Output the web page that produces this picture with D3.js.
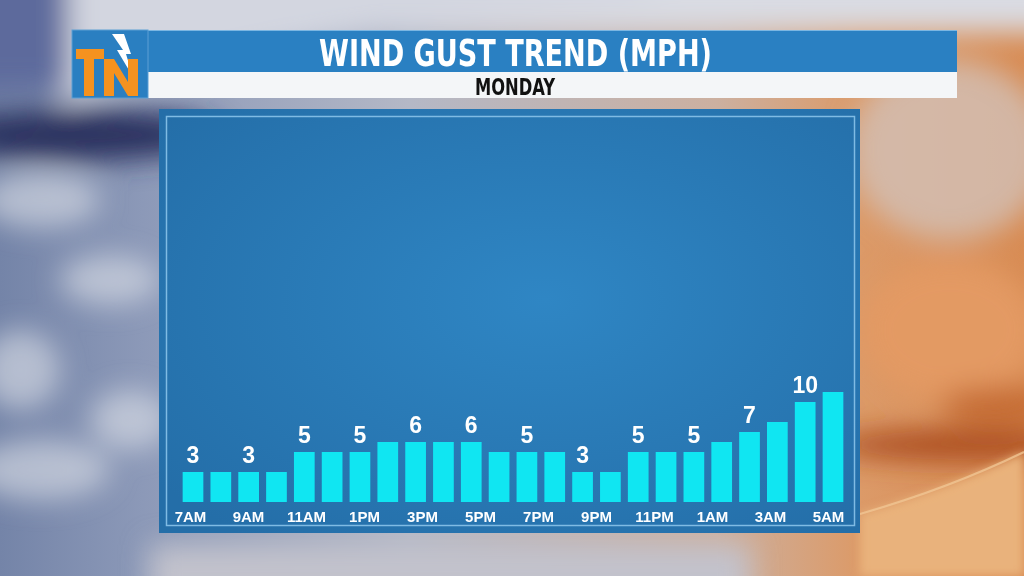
<!DOCTYPE html>
<html>
<head>
<meta charset="utf-8">
<script src="https://cdn.jsdelivr.net/npm/d3@7"></script>
<style>
  html, body { margin: 0; padding: 0; background: #9aa0b0; }
  svg { display: block; }
</style>
</head>
<body>
<div id="chart"></div>
<script>
// Wind gust values (mph), one bar per hour from 7AM Monday to 6AM
var hours = ["7AM", "8AM", "9AM", "10AM", "11AM", "12PM", "1PM", "2PM", "3PM", "4PM", "5PM", "6PM",
             "7PM", "8PM", "9PM", "10PM", "11PM", "12AM", "1AM", "2AM", "3AM", "4AM", "5AM", "6AM"];
var gusts = [3, 3, 3, 3, 5, 5, 5, 6, 6, 6, 6, 5, 5, 5, 3, 3, 5, 5, 5, 6, 7, 8, 10, 11];
var tickLabels = ["7AM", "9AM", "11AM", "1PM", "3PM", "5PM", "7PM", "9PM", "11PM", "1AM", "3AM", "5AM"];
var title = "WIND GUST TREND (MPH)";
var subtitle = "MONDAY";

(function() {
    var W = 1024, H = 576;

    var svg = d3.select("#chart")
        .append("svg")
        .attr("width", W)
        .attr("height", H);

    var defs = svg.append("defs");

    // blur used for the cloudy backdrop
    defs.append("filter").attr("id", "blur")
        .attr("x", "-50%").attr("y", "-50%").attr("width", "200%").attr("height", "200%")
        .append("feGaussianBlur").attr("stdDeviation", 14);
    defs.append("filter").attr("id", "blurSoft")
        .attr("x", "-50%").attr("y", "-50%").attr("width", "200%").attr("height", "200%")
        .append("feGaussianBlur").attr("stdDeviation", 5);

    var bgGrad = defs.append("linearGradient").attr("id", "bgGrad")
        .attr("x1", "0%").attr("x2", "100%").attr("y1", "0%").attr("y2", "0%");
    [["0%", "#7484a8"], ["14%", "#8c99b8"], ["40%", "#b4b8c6"], ["70%", "#ccb0a0"],
     ["84%", "#dc9a68"], ["100%", "#d88c54"]].forEach(function(s) {
        bgGrad.append("stop").attr("offset", s[0]).attr("stop-color", s[1]);
    });

    var panelGrad = defs.append("radialGradient").attr("id", "panelGrad")
        .attr("cx", "55%").attr("cy", "45%").attr("r", "70%");
    panelGrad.append("stop").attr("offset", "0%").attr("stop-color", "#2f86c4");
    panelGrad.append("stop").attr("offset", "100%").attr("stop-color", "#246ea8");

    // ---- background ----
    var bg = svg.append("g");
    bg.append("rect").attr("width", W).attr("height", H).attr("fill", "url(#bgGrad)");

    var blobs = bg.append("g").attr("filter", "url(#blur)");
    // top light band and the light wedge above the arc
    blobs.append("rect").attr("x", -40).attr("y", -40).attr("width", W + 80).attr("height", 72).attr("fill", "#d9dbe3");
    blobs.append("path").attr("d", "M60,-40 L700,-40 L640,0 Q300,30 60,105 Z").attr("fill", "#d3d6e0");
    // blue-purple top-left corner
    blobs.append("rect").attr("x", -40).attr("y", -40).attr("width", 108).attr("height", 130).attr("fill", "#5d6b9c");
    // dark navy streak on the left
    blobs.append("ellipse").attr("cx", 80).attr("cy", 135).attr("rx", 140).attr("ry", 26).attr("fill", "#2a325e");
    // clouds on the left
    [[40, 200, 60, 28], [110, 280, 50, 25], [20, 370, 40, 40], [40, 470, 70, 30], [130, 420, 40, 30]].forEach(function(c) {
        blobs.append("ellipse").attr("cx", c[0]).attr("cy", c[1]).attr("rx", c[2]).attr("ry", c[3])
            .attr("fill", "#e0e2ea").attr("opacity", 0.6);
    });
    // right side: pale top, orange middle, brown streak
    blobs.append("ellipse").attr("cx", 950).attr("cy", 150).attr("rx", 100).attr("ry", 90).attr("fill", "#d2c0b8").attr("opacity", 0.8);
    blobs.append("ellipse").attr("cx", 950).attr("cy", 330).attr("rx", 90).attr("ry", 70).attr("fill", "#e39a64");
    blobs.append("ellipse").attr("cx", 960).attr("cy", 445).attr("rx", 130).attr("ry", 15).attr("fill", "#a9481a");
    blobs.append("ellipse").attr("cx", 1000).attr("cy", 405).attr("rx", 60).attr("ry", 18).attr("fill", "#c46a30");
    // bottom strip under the panel
    blobs.append("rect").attr("x", 150).attr("y", 545).attr("width", 600).attr("height", 60).attr("fill", "#c2c2cc");

    // light arc edge on the lower right
    bg.append("path")
        .attr("d", "M1024,452 Q950,488 860,514 L860,576 L1024,576 Z")
        .attr("fill", "#e9b27c")
        .attr("filter", "url(#blurSoft)");
    bg.append("path")
        .attr("d", "M1024,452 Q950,488 860,514")
        .attr("fill", "none").attr("stroke", "#f0c694").attr("stroke-width", 2).attr("opacity", 0.8);

    // ---- header ----
    var header = svg.append("g");
    header.append("rect").attr("x", 72).attr("y", 30).attr("width", 885).attr("height", 43).attr("fill", "#2a80c2");
    header.append("line").attr("x1", 72).attr("x2", 957).attr("y1", 30.5).attr("y2", 30.5)
        .attr("stroke", "#7bb6e2").attr("stroke-width", 1);
    header.append("rect").attr("x", 148).attr("y", 72).attr("width", 809).attr("height", 26).attr("fill", "#f4f6f8");

    // logo box
    header.append("rect").attr("x", 72).attr("y", 30).attr("width", 76).attr("height", 68)
        .attr("fill", "#2a7fc1").attr("stroke", "#5d9fd4").attr("stroke-width", 1);
    header.append("path")
        .attr("d", "M112,34 L124,34 L131,54 L126,54 L133,77 L117,50 L123,50 Z")
        .attr("fill", "#ffffff");
    header.append("path")
        .attr("d", "M76,49 L104,49 L104,59 L94,59 L94,96 L84,96 L84,59 L76,59 Z")
        .attr("fill", "#f5921f");
    header.append("path")
        .attr("d", "M104,59 L114,59 L128,82 L128,59 L138,59 L138,96 L128,96 L114,73 L114,96 L104,96 Z")
        .attr("fill", "#f5921f");

    header.append("text")
        .attr("x", 515.5).attr("y", 66)
        .attr("text-anchor", "middle")
        .attr("font-family", "'Liberation Sans Narrow', 'DejaVu Sans Condensed', sans-serif")
        .attr("font-weight", "bold")
        .attr("font-size", 38)
        .attr("textLength", 393).attr("lengthAdjust", "spacingAndGlyphs")
        .attr("fill", "#ffffff")
        .text(title);

    header.append("text")
        .attr("x", 515).attr("y", 95)
        .attr("text-anchor", "middle")
        .attr("font-family", "'Liberation Sans Narrow', 'DejaVu Sans Condensed', sans-serif")
        .attr("font-weight", "bold")
        .attr("font-size", 23)
        .attr("textLength", 80).attr("lengthAdjust", "spacingAndGlyphs")
        .attr("fill", "#111111")
        .text(subtitle);

    // ---- chart panel ----
    svg.append("rect").attr("x", 159).attr("y", 109).attr("width", 701).attr("height", 424)
        .attr("fill", "url(#panelGrad)");
    svg.append("rect").attr("x", 166.5).attr("y", 116.5).attr("width", 688).attr("height", 409)
        .attr("fill", "none").attr("stroke", "#7fbbe4").attr("stroke-width", 1.5);

    // scales: bars are centred from x=193 to x=833, 10px per mph above a baseline at y=502
    var step = (833 - 193) / (hours.length - 1);
    var x = d3.scaleBand()
        .domain(hours)
        .range([193 - step / 2, 833 + step / 2])
        .paddingInner(0.256)
        .paddingOuter(0.128);

    var y = d3.scaleLinear()
        .domain([0, 11])
        .range([502, 392]);

    // tick labels sit on their own evenly spread positions
    var xTicks = d3.scalePoint()
        .domain(tickLabels)
        .range([190, 828]);

    var plot = svg.append("g");

    plot.selectAll("rect.bar")
        .data(hours)
        .enter()
        .append("rect")
        .attr("class", "bar")
        .attr("x", function(d) { return x(d); })
        .attr("width", x.bandwidth())
        .attr("y", function(d, i) { return y(gusts[i]); })
        .attr("height", function(d, i) { return y(0) - y(gusts[i]); })
        .attr("fill", "#10e6f2");

    // value labels over every other bar
    plot.selectAll("text.value")
        .data(hours.map(function(h, i) { return {hour: h, value: gusts[i]}; })
            .filter(function(d) { return tickLabels.indexOf(d.hour) >= 0; }))
        .enter()
        .append("text")
        .attr("class", "value")
        .attr("x", function(d) { return x(d.hour) + x.bandwidth() / 2; })
        .attr("y", function(d) { return y(d.value) - 9; })
        .attr("text-anchor", "middle")
        .attr("font-family", "'Liberation Sans', Arial, sans-serif")
        .attr("font-weight", "bold")
        .attr("font-size", 23)
        .attr("fill", "#ffffff")
        .text(function(d) { return d.value; });

    // x axis
    var xAxis = svg.append("g")
        .attr("transform", "translate(0,508)")
        .call(d3.axisBottom(xTicks).tickSize(0).tickPadding(0));
    xAxis.select(".domain").remove();
    xAxis.selectAll("text")
        .attr("dy", "0")
        .attr("y", 14)
        .attr("font-family", "'Liberation Sans', Arial, sans-serif")
        .attr("font-weight", "bold")
        .attr("font-size", 15)
        .attr("fill", "#ffffff");
})();
</script>
</body>
</html>
